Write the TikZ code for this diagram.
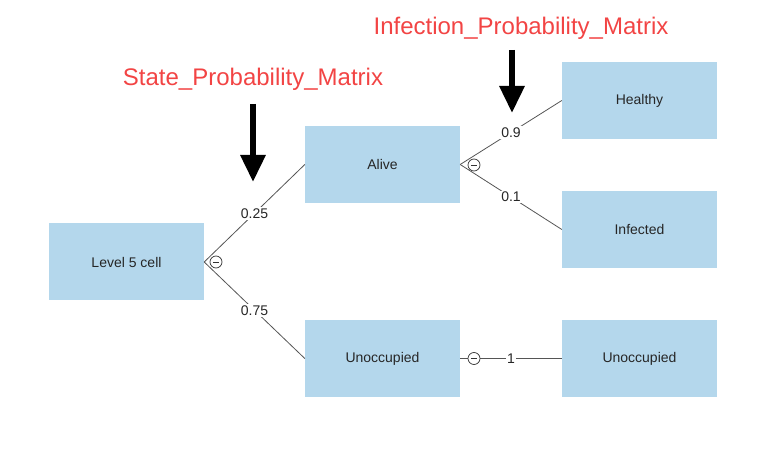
\documentclass[tikz,border=0pt]{standalone}
\usepackage{fontspec}
\setmainfont{Liberation Sans}
\usetikzlibrary{arrows.meta}
\definecolor{boxblue}{HTML}{B4D7EC}
\definecolor{titlered}{HTML}{F24444}
\definecolor{linegray}{HTML}{555555}
\begin{document}
\begin{tikzpicture}[x=1pt,y=-1pt,
  box/.style={fill=boxblue,draw=none,minimum width=155pt,minimum height=77pt,inner sep=0pt,font=\fontsize{14}{16}\selectfont,text=black!85},
  conn/.style={draw=linegray,line width=0.8pt},
  prob/.style={fill=white,inner sep=1.5pt,font=\fontsize{14}{16}\selectfont,text=black!85},
  minusc/.style={circle,draw=black!80,fill=white,line width=0.7pt,minimum size=12pt,inner sep=0pt},
  title/.style={text=titlered,font=\fontsize{24}{28}\selectfont},
  bigarrow/.style={line width=6pt,-{Triangle[width=24pt,length=27pt]}}
]
\useasboundingbox (0,0) rectangle (782,470);
\node[box] (l5) at (126.5,262) {Level 5 cell};
\node[box] (alive) at (382.5,164.5) {Alive};
\node[box] (unocc) at (382.5,358.5) {Unoccupied};
\node[box] (healthy) at (639.5,100.5) {Healthy};
\node[box] (infected) at (639.5,229.5) {Infected};
\node[box] (unocc2) at (639.5,358.5) {Unoccupied};

\draw[conn] (l5.east) -- node[prob] {0.25} (alive.west);
\draw[conn] (l5.east) -- node[prob] {0.75} (unocc.west);
\draw[conn] (alive.east) -- node[prob] {0.9} (healthy.west);
\draw[conn] (alive.east) -- node[prob] {0.1} (infected.west);
\draw[conn] (unocc.east) -- node[prob] {1} (unocc2.west);

\foreach \n/\p in {m1/{(216,262)},m2/{(474,165)},m3/{(474,358.5)}}{
  \node[minusc] (\n) at \p {};
  \draw[black!80,line width=0.7pt] ([xshift=-3.2pt]\n.center) -- ([xshift=3.2pt]\n.center);
}

\node[title] (t1) at (253,79) {State\_Probability\_Matrix};
\node[title] (t2) at (521,28) {Infection\_Probability\_Matrix};
\coordinate (a1s) at (253,104);
\coordinate (a1e) at (253,182);
\coordinate (a2s) at (512,50);
\coordinate (a2e) at (512,113);
\draw[bigarrow] (a1s) -- (a1e);
\draw[bigarrow] (a2s) -- (a2e);
\end{tikzpicture}
\end{document}
